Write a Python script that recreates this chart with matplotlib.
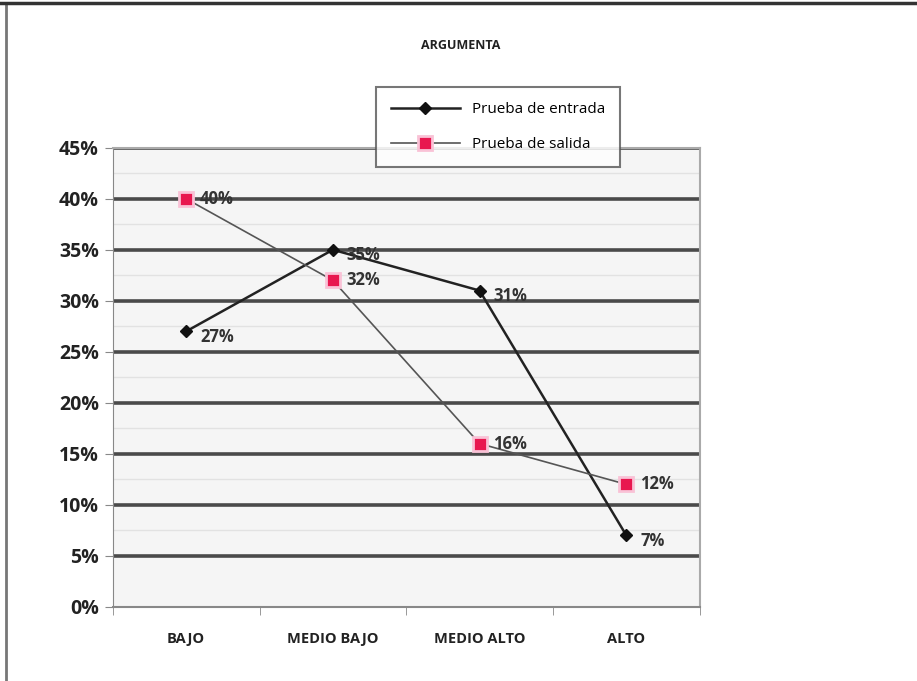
import matplotlib.pyplot as plt
from matplotlib.patches import Rectangle
from matplotlib.ticker import FixedLocator, PercentFormatter

# Niveles y porcentajes de cada medición
niveles = ['BAJO', 'MEDIO BAJO', 'MEDIO ALTO', 'ALTO']
prueba_entrada = [27, 35, 31, 7]
prueba_salida = [40, 32, 16, 12]
nombres = ['Prueba de entrada', 'Prueba de salida']

plt.rcParams['font.family'] = ['Open Sans', 'DejaVu Sans']

fig = plt.figure(figsize=(9.17, 6.81), dpi=100)
fig.patch.set_facecolor('white')

# marco exterior del gráfico
fig.add_artist(Rectangle((0.006, -0.01), 1.2, 1.006, transform=fig.transFigure,
                         fill=False, edgecolor='#777777', linewidth=2))
fig.add_artist(plt.Line2D([0, 1], [0.995, 0.995], transform=fig.transFigure,
                          color='#333333', linewidth=2.5))

ax = fig.add_axes([0.123, 0.109, 0.640, 0.674])
ax.set_facecolor('#f5f5f5')

x = range(len(niveles))

# lineas de cuadricula gruesas cada 5%
for v in range(5, 50, 5):
    ax.axhline(v, color='#4a4a4a', linewidth=2.6, zorder=1)
    ax.axhline(v + 2.5, color='#e2e2e2', linewidth=1.0, zorder=1)

ax.plot(x, prueba_entrada, color='#222222', linewidth=1.8, marker='D',
        markersize=6, markerfacecolor='#111111', markeredgecolor='#111111',
        label=nombres[0], zorder=3)
ax.plot(x, prueba_salida, color='#555555', linewidth=1.2, marker='s',
        markersize=10, markerfacecolor='#e8174f', markeredgecolor='#f9c2d6',
        markeredgewidth=2, label=nombres[1], zorder=4)

for i, v in enumerate(prueba_entrada):
    ax.annotate(f'{v}%', (i, v), xytext=(10, -4), textcoords='offset points',
                fontsize=12, fontweight='bold', color='#333333', va='center',
                zorder=5)
for i, v in enumerate(prueba_salida):
    ax.annotate(f'{v}%', (i, v), xytext=(10, 0), textcoords='offset points',
                fontsize=12, fontweight='bold', color='#333333', va='center',
                zorder=5)

ax.set_xlim(-0.5, 3.5)
ax.set_ylim(0, 45)
ax.set_yticks(range(0, 50, 5))
ax.yaxis.set_major_formatter(PercentFormatter(decimals=0))
ax.set_xticks(list(x))
ax.set_xticklabels(niveles)
ax.tick_params(axis='x', length=0, pad=18, labelsize=10.5)
ax.xaxis.set_minor_locator(FixedLocator([-0.5, 0.5, 1.5, 2.5, 3.5]))
ax.tick_params(axis='x', which='minor', length=6, color='#888888')
ax.tick_params(axis='y', length=6, color='#888888', labelsize=14, pad=4)
for lab in ax.get_yticklabels() + ax.get_xticklabels():
    lab.set_fontweight('bold')
    lab.set_color('#222222')

for side in ['top', 'right']:
    ax.spines[side].set_color('#aaaaaa')
    ax.spines[side].set_linewidth(1.5)
ax.spines['left'].set_color('#888888')
ax.spines['bottom'].set_color('#888888')
ax.spines['bottom'].set_linewidth(1.5)

fig.text(0.502, 0.933, 'ARGUMENTA', ha='center', va='center',
         fontsize=9, fontweight='bold', color='#222222')

leg = ax.legend(loc='upper left', bbox_to_anchor=(0.448, 1.133),
                fontsize=11, frameon=True, fancybox=False,
                borderpad=1.0, labelspacing=1.3, handlelength=4.5,
                borderaxespad=0)
leg.get_frame().set_edgecolor('#555555')
leg.get_frame().set_linewidth(1.5)
leg.set_zorder(10)

fig.savefig('out.png', dpi=100)
